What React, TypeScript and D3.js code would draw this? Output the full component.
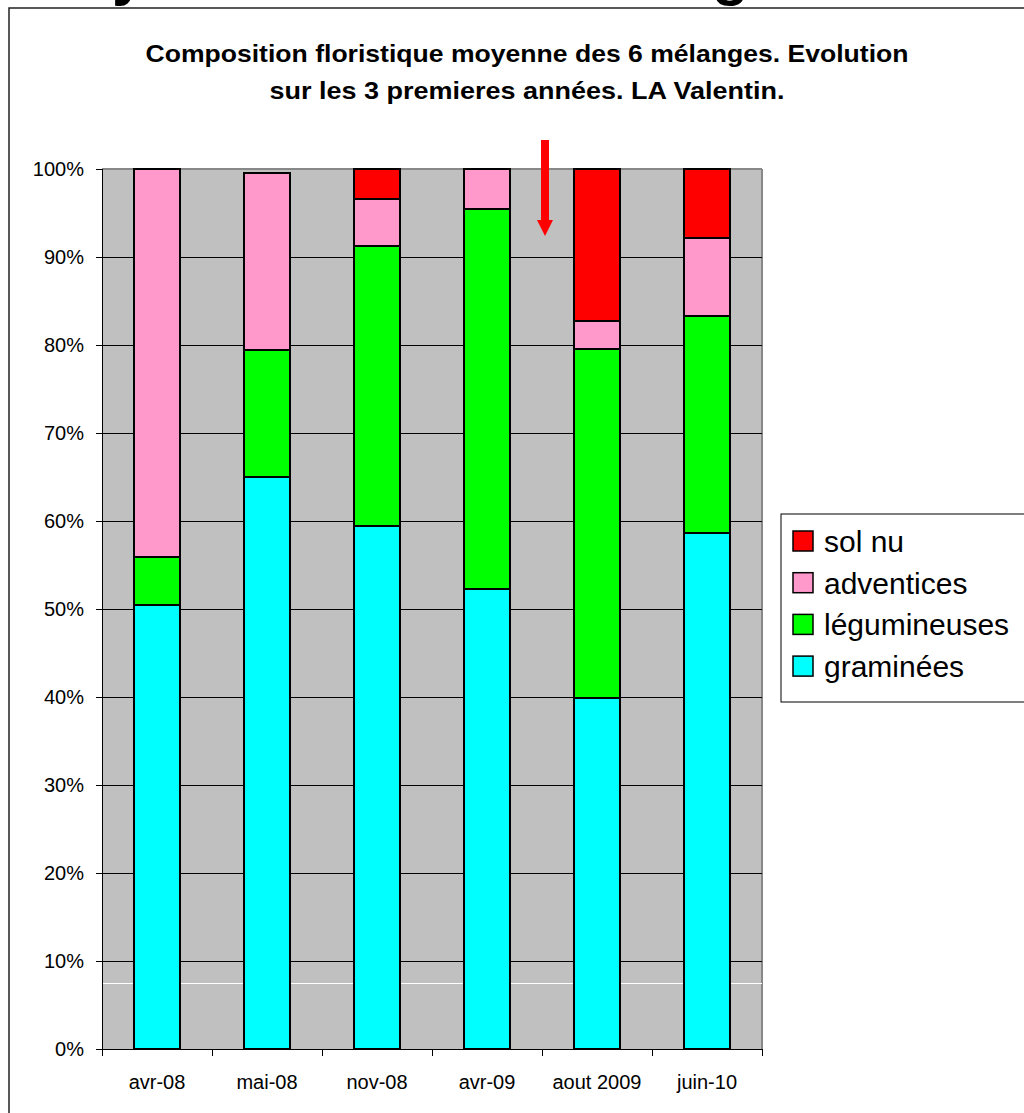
import * as d3 from 'd3';

const categories = ['avr-08', 'mai-08', 'nov-08', 'avr-09', 'aout 2009', 'juin-10'];
const graminees = [50.5, 65.0, 59.4, 52.3, 39.9, 58.6];
const legumineuses = [5.4, 14.4, 31.8, 43.1, 39.7, 24.7];
const adventices = [44.1, 20.1, 5.4, 4.6, 3.1, 8.9];
const solNu = [0, 0, 3.4, 0, 17.3, 7.8];

const seriesKeys = ['graminées', 'légumineuses', 'adventices', 'sol nu'];
const seriesColors = ['#00FFFF', '#00FF00', '#FF99CC', '#FF0000'];
const yTicks = [0, 10, 20, 30, 40, 50, 60, 70, 80, 90, 100];

const titleLines = [
  'Composition floristique moyenne des 6 mélanges. Evolution',
  'sur les 3 premieres années. LA Valentin.',
];

const FONT = 'Arial, "Liberation Sans", sans-serif';

export default function App() {
  const margin = { top: 169, left: 102 };
  const plotW = 660;
  const plotH = 880;

  const rows = categories.map((c, i) => ({
    cat: c,
    'graminées': graminees[i],
    'légumineuses': legumineuses[i],
    'adventices': adventices[i],
    'sol nu': solNu[i],
  }));

  const stacked = d3.stack<any>().keys(seriesKeys)(rows);

  const x = d3.scaleBand().domain(categories).range([0, plotW]).paddingInner(0.59).paddingOuter(0.295);
  const band = d3.scaleBand().domain(categories).range([0, plotW]);
  const y = d3.scaleLinear().domain([0, 100]).range([plotH, 0]);

  // legend order is reversed (top series first)
  const legendItems = seriesKeys.map((k, i) => ({ k, c: seriesColors[i] })).reverse();

  return (
    <svg width={1024} height={1113} style={{ position: 'absolute', left: 0, top: 0 }} fontFamily={FONT}>
      <rect width={1024} height={1113} fill="#fff" />
      {/* cut-off slide heading */}
      <text x={112} y={-6} fontSize={60} fontWeight="bold" fill="#000">y</text>
      <text x={712} y={-6} fontSize={60} fontWeight="bold" fill="#000">g</text>
      <rect x={9} y={8} width={1030} height={1120} fill="#fff" stroke="#222" strokeWidth={1.5} />

      {titleLines.map((t, i) => (
        <text key={i} x={527} y={62 + i * 37} textAnchor="middle" fontSize={24} fontWeight="bold"
          textLength={i === 0 ? 763 : 515} lengthAdjust="spacingAndGlyphs">{t}</text>
      ))}

      <g transform={`translate(${margin.left},${margin.top})`} shapeRendering="crispEdges">
        <rect width={plotW} height={plotH} fill="#C0C0C0" />
        <line x1={0} x2={plotW} y1={0} y2={0} stroke="#888" strokeWidth={1.5} />
        <line x1={plotW} x2={plotW} y1={0} y2={plotH} stroke="#888" strokeWidth={1.5} />
        {yTicks.filter(t => t > 0 && t < 100).map(t => (
          <line key={t} x1={0} x2={plotW} y1={y(t)} y2={y(t)} stroke="#000" strokeWidth={1} />
        ))}
        <line x1={0} x2={plotW} y1={y(7.4)} y2={y(7.4)} stroke="#fff" strokeWidth={1} />

        {stacked.map((s, si) => (
          <g key={s.key}>
            {s.map((d, i) => d[1] - d[0] > 0 ? (
              <rect key={i} x={x(categories[i])} width={x.bandwidth()} y={y(d[1])} height={y(d[0]) - y(d[1])}
                fill={seriesColors[si]} stroke="#000" strokeWidth={2} />
            ) : null)}
          </g>
        ))}

        {/* axes */}
        <line x1={0} x2={0} y1={0} y2={plotH} stroke="#000" strokeWidth={1} />
        <line x1={0} x2={plotW} y1={plotH} y2={plotH} stroke="#000" strokeWidth={1} />
        {yTicks.map(t => (
          <g key={t}>
            <line x1={-6} x2={0} y1={y(t)} y2={y(t)} stroke="#000" />
            <text x={-18} y={y(t)} dy="0.35em" textAnchor="end" fontSize={20} fill="#000" shapeRendering="auto">{t}%</text>
          </g>
        ))}
        {categories.concat(['']).map((c, i) => (
          <line key={i} x1={i * band.bandwidth()} x2={i * band.bandwidth()} y1={plotH} y2={plotH + 7} stroke="#000" />
        ))}
        {categories.map(c => (
          <text key={c} x={(band(c) ?? 0) + band.bandwidth() / 2} y={plotH + 40} textAnchor="middle" fontSize={20} fill="#000">{c}</text>
        ))}
      </g>

      {/* arrow */}
      <rect x={541} y={140} width={8} height={80} fill="#FF0000" />
      <path d="M537,220 L553,220 L545,236 Z" fill="#FF0000" />

      {/* legend */}
      <rect x={781} y={514} width={260} height={188} fill="#fff" stroke="#000" strokeWidth={1} />
      {legendItems.map((it, i) => (
        <g key={it.k} transform={`translate(793,${531 + i * 41.7})`}>
          <rect width={20} height={20} fill={it.c} stroke="#000" strokeWidth={1.5} />
          <text x={31} y={10} dy="0.36em" fontSize={30} fill="#000">{it.k}</text>
        </g>
      ))}
    </svg>
  );
}
